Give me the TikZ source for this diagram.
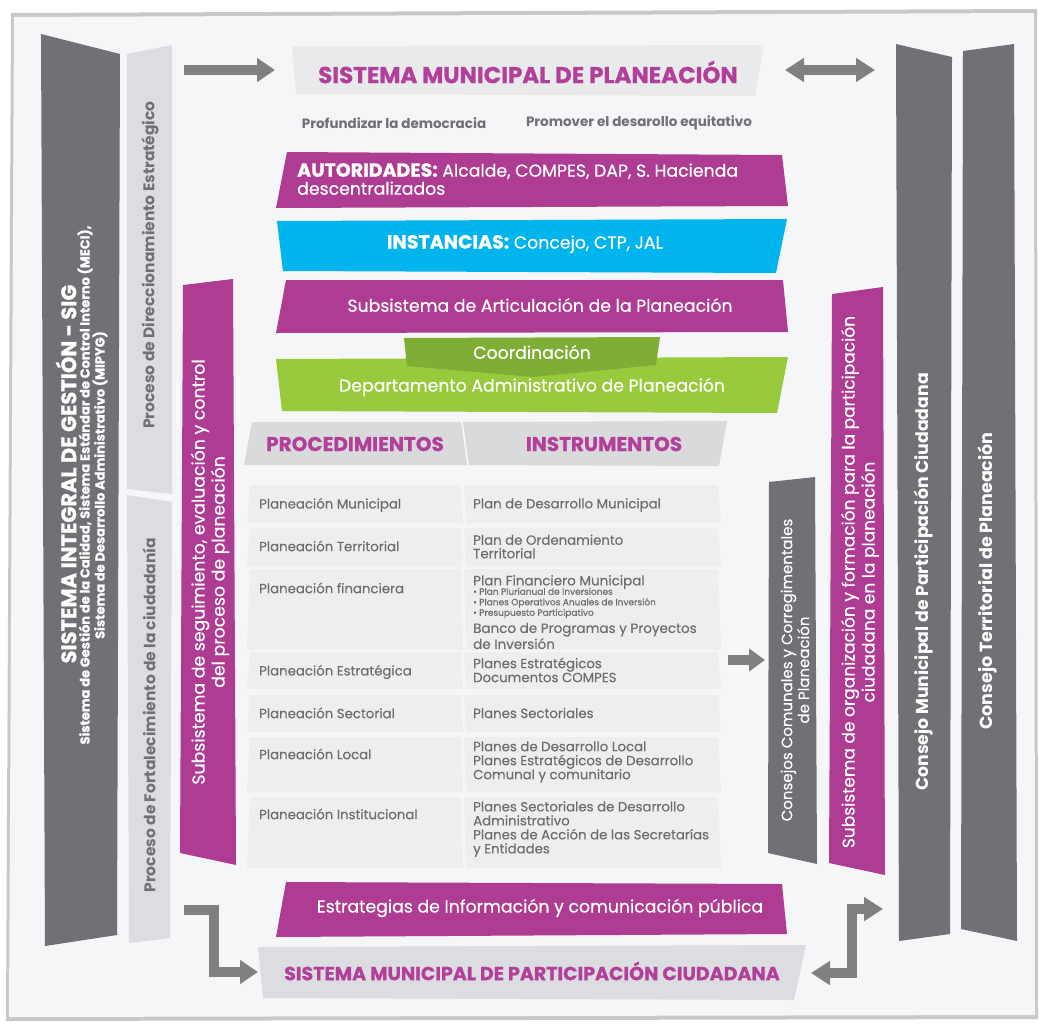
\documentclass[tikz,border=0pt]{standalone}
\usepackage{fontspec}
\setmainfont{Poppins}[UprightFeatures={FakeBold=0.35}]
\newfontfamily\hvy{Poppins}[BoldFeatures={FakeBold=0.8}]
\usetikzlibrary{arrows.meta}
\definecolor{bgc}{HTML}{F5F6F8}
\definecolor{framec}{HTML}{C8C8C8}
\definecolor{dgray}{HTML}{707175}
\definecolor{lbar}{HTML}{DCDDE0}
\definecolor{hbox}{HTML}{E9EAEC}
\definecolor{mag}{HTML}{AE3C93}
\definecolor{magt}{HTML}{B23F9A}
\definecolor{cyanc}{HTML}{00B4EE}
\definecolor{grn}{HTML}{99C93C}
\definecolor{dgrn}{HTML}{7FAD36}
\definecolor{cell}{HTML}{EEEEEF}
\definecolor{hcell}{HTML}{D9DADB}
\definecolor{arr}{HTML}{808080}
\definecolor{ttxt}{HTML}{6D6E71}
\tikzset{
  fat/.style={draw=arr, line width=10pt, -{Triangle[width=23pt,length=18pt]}},
  fatboth/.style={draw=arr, line width=10pt, {Triangle[width=23pt,length=19pt]}-{Triangle[width=23pt,length=19pt]}},
  txt/.style={inner sep=0pt, text=white, font=\fontsize{17.3}{20}\selectfont},
  heavy/.style={inner sep=0pt, text=magt, font=\hvy\bfseries\fontsize{23}{23}\selectfont},
  vtxt/.style={inner sep=0pt, rotate=90, align=center},
  lcol/.style={anchor=west, inner sep=0pt, text=ttxt, font=\fontsize{13.3}{14}\selectfont},
  rcol/.style={anchor=west, inner sep=0pt, text=ttxt, align=left, font=\fontsize{13.3}{14}\selectfont},
  goal/.style={inner sep=0pt, text=dgray, font=\bfseries\fontsize{13.5}{13.5}\selectfont}
}
\begin{document}
\begin{tikzpicture}[x=1pt,y=-1pt]
\useasboundingbox (0,0) rectangle (1039,1023);
% frame
\fill[framec] (11,13) -- (1037,9) -- (1038,1019) -- (6,1021) -- cycle;
\fill[bgc] (14,17) -- (1034,13) -- (1035,1015) -- (9,1017) -- cycle;

% left bars
\fill[dgray] (41,34) -- (120,54) -- (117,935) -- (45,946) -- cycle;
\fill[lbar] (127,54) -- (172,45) -- (172,494) -- (127,489) -- cycle;
\fill[lbar] (127,495) -- (172,502) -- (170,938) -- (129,943) -- cycle;
\fill[mag] (183,285) -- (233,279) -- (236,865) -- (180,853) -- cycle;

\node[vtxt, text=white, font=\hvy\bfseries\fontsize{21}{21}\selectfont] (sig1) at (66,474) {SISTEMA INTEGRAL DE GESTIÓN - SIG};
\node[vtxt, text=white, font=\hvy\bfseries\fontsize{13}{14}\selectfont] (sig2) at (85,485) {Sistema de Gestión de la Calidad, Sistema Estándar de Control Interno (MECI),};
\node[vtxt, text=white, font=\hvy\bfseries\fontsize{13}{14}\selectfont] (sig3) at (100,485) {Sistema de Desarrollo Administrativo (MIPYG)};
\node[vtxt, text=dgray, font=\bfseries\fontsize{15.5}{16}\selectfont] (proc1) at (150,265) {Proceso de Direccionamiento Estratégico};
\node[vtxt, text=dgray, font=\bfseries\fontsize{15.5}{16}\selectfont] (proc2) at (149,715) {Proceso de Fortalecimiento de la ciudadanía};
\node[vtxt, txt] (seg) at (210,572) {Subsistema de seguimiento, evaluación y control\\del proceso de planeación};

% top header
\fill[hbox] (292,46) -- (764,45) -- (755,96) -- (296,94) -- cycle;
\node[heavy] (smp) at (528,72) {SISTEMA MUNICIPAL DE PLANEACIÓN};
\coordinate (aL) at (184,70);
\coordinate (aR) at (275,70);
\draw[fat] (aL) -- (aR);
\coordinate (dA) at (785,70);
\coordinate (dB) at (875,70);
\draw[fatboth] (dA) -- (dB);

\node[goal] (g1) at (394,123) {Profundizar la democracia};
\node[goal] (g2) at (639,123) {Promover el desarollo equitativo};

% autoridades
\fill[mag] (287,152) -- (782,155) -- (788,206) -- (276,208) -- cycle;
\node[txt, anchor=west, align=left, font=\fontsize{17.3}{18}\selectfont] (aut) at (297,179) {{\hvy\bfseries\fontsize{19}{18}\selectfont AUTORIDADES:} Alcalde, COMPES, DAP, S. Hacienda\\descentralizados};
% instancias
\fill[cyanc] (277,221) -- (787,219) -- (776,273) -- (283,271) -- cycle;
\node[txt] (ins) at (525,244) {{\hvy\bfseries\fontsize{19}{18}\selectfont INSTANCIAS:} Concejo, CTP, JAL};
% articulacion
\fill[mag] (286,280) -- (783,280) -- (788,332) -- (276,333) -- cycle;
\node[txt] (art) at (540,305) {Subsistema de Articulación de la Planeación};
% DAP + coordinacion
\fill[grn] (276,359) -- (788,357) -- (777,413) -- (282,411) -- cycle;
\fill[dgrn] (404,338) -- (660,337) -- (656,365) -- (533,377) -- (407,366) -- cycle;
\node[txt] (coo) at (532,352) {Coordinación};
\node[txt] (dap) at (532,387) {Departamento Administrativo de Planeación};

% table header
\fill[hcell] (252,422) -- (461,422) -- (467,465) -- (244,465) -- cycle;
\fill[hcell] (463,422) -- (727,421) -- (719,466) -- (469,465) -- cycle;
\node[heavy, font=\hvy\bfseries\fontsize{20}{20}\selectfont] (hp) at (355,444) {PROCEDIMIENTOS};
\node[heavy, font=\hvy\bfseries\fontsize{20}{20}\selectfont] (hi) at (604,444) {INSTRUMENTOS};

% table rows
\foreach \ya/\yb in {485/523, 528/567, 569/650, 652/689, 695/732, 737/792, 797/868}{
  \fill[cell] (250,\ya) -- (461,\ya) -- (463,\yb) -- (247,\yb) -- cycle;
  \fill[cell] (464,\ya) -- (718,\ya) -- (721,\yb) -- (466,\yb) -- cycle;
}
\node[lcol] (l1) at (259,505) {Planeación Municipal};
\node[lcol] (l2) at (259,546) {Planeación Territorial};
\node[lcol] (l3) at (259,588) {Planeación financiera};
\node[lcol] (l4) at (259,672) {Planeación Estratégica};
\node[lcol] (l5) at (259,713) {Planeación Sectorial};
\node[lcol] (l6) at (259,754) {Planeación Local};
\node[lcol] (l7) at (259,814) {Planeación Institucional};

\node[rcol] (r1) at (473,505) {Plan de Desarrollo Municipal};
\node[rcol, font=\fontsize{13.3}{13.5}\selectfont] (r2) at (473,546.5) {Plan de Ordenamiento\\Territorial};
\node[rcol, font=\fontsize{13.5}{15}\selectfont] (r3a) at (473,582) {Plan Financiero Municipal};
\node[rcol, font=\fontsize{9}{10.5}\selectfont] (r3b) at (473,603) {• Plan Plurianual de Inversiones\\• Planes Operativos Anuales de Inversión\\• Presupuesto Participativo};
\node[rcol, font=\fontsize{13.5}{16}\selectfont] (r3c) at (473,636) {Banco de Programas y Proyectos\\de Inversión};
\node[rcol] (r4) at (473,670) {Planes Estratégicos\\Documentos COMPES};
\node[rcol] (r5) at (473,713) {Planes Sectoriales};
\node[rcol] (r6) at (473,762) {Planes de Desarrollo Local\\Planes Estratégicos de Desarrollo\\Comunal y comunitario};
\node[rcol] (r7) at (473,829) {Planes Sectoriales de Desarrollo\\Administrativo\\Planes de Acción de las Secretarías\\y Entidades};

% arrow to consejos
\coordinate (cA) at (728,660);
\coordinate (cB) at (765,660);
\draw[fat, -{Triangle[width=22pt,length=16pt]}] (cA) -- (cB);

% right bars
\fill[dgray] (769,482) -- (815,477) -- (817,864) -- (768,853) -- cycle;
\fill[mag] (832,294) -- (883,287) -- (885,875) -- (829,863) -- cycle;
\fill[dgray] (896,44) -- (952,57) -- (950,934) -- (899,941) -- cycle;
\fill[dgray] (963,51) -- (1014,44) -- (1017,941) -- (961,929) -- cycle;
\node[vtxt, txt, font=\fontsize{15}{15.5}\selectfont] (ccc) at (795,670) {Consejos Comunales y Corregimentales\\de Planeación};
\node[vtxt, txt, font=\fontsize{17}{20}\selectfont] (org) at (860,582) {Subsistema de organización y formación para la participación\\ciudadana en la planeación};
\node[vtxt, txt, font=\bfseries\fontsize{17.3}{17}\selectfont] (cmpc) at (924,582) {Consejo Municipal de Participación Ciudadana};
\node[vtxt, txt, font=\bfseries\fontsize{17.5}{17}\selectfont] (ctp) at (988,581) {Consejo Territorial de Planeación};

% bottom
\fill[mag] (286,882) -- (782,884) -- (787,934) -- (276,937) -- cycle;
\node[txt] (est) at (540,908) {Estrategias de Información y comunicación pública};
\fill[lbar] (258,947) -- (806,945) -- (794,1000) -- (263,998) -- cycle;
\node[heavy, font=\hvy\bfseries\fontsize{19}{19}\selectfont] (smpc) at (532,971) {SISTEMA MUNICIPAL DE PARTICIPACIÓN CIUDADANA};

\coordinate (bl1) at (184,910);
\coordinate (bl2) at (258,972);
\draw[fat] (bl1) -- ++(30,0) |- (bl2);
\coordinate (br1) at (811,973);
\coordinate (br2) at (883,909);
\draw[fatboth] (br1) -- ++(41,0) |- (br2);
\end{tikzpicture}
\end{document}
